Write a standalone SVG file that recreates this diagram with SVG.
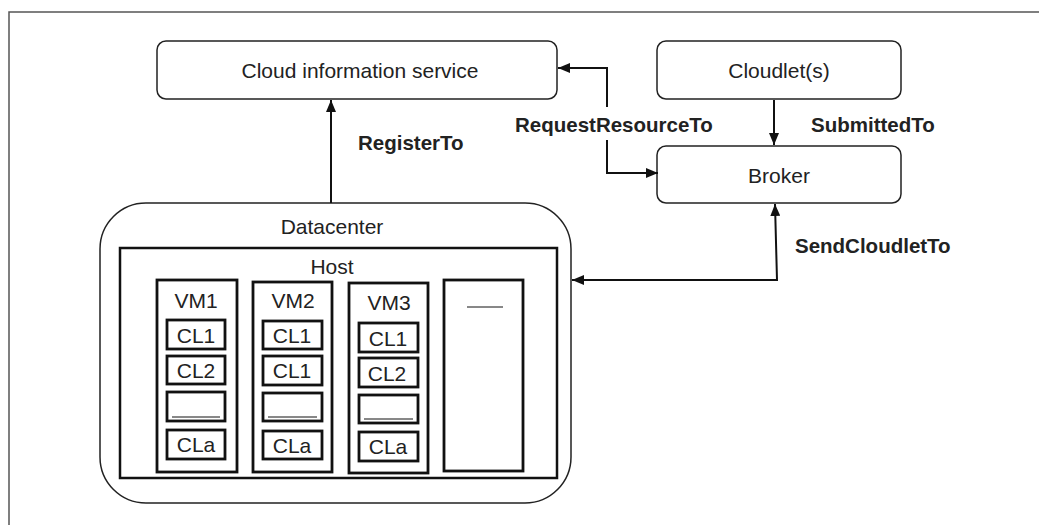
<svg xmlns="http://www.w3.org/2000/svg" width="1039" height="525" viewBox="0 0 1039 525">
<defs>
<style>
.t{font-family:"Liberation Sans",Arial,sans-serif;font-size:21px;fill:#222;text-anchor:middle}
.b{font-family:"Liberation Sans",Arial,sans-serif;font-size:20.5px;font-weight:bold;fill:#222}
.box{fill:#fff;stroke:#222;stroke-width:1.5}
.thick{fill:#fff;stroke:#111;stroke-width:2.8}
.con{fill:none;stroke:#111;stroke-width:2}
</style>
<marker id="ah" viewBox="0 0 12 10" markerWidth="12" markerHeight="10" markerUnits="userSpaceOnUse" refX="12" refY="5" orient="auto-start-reverse">
<path d="M0,0 L12,5 L0,10 z" fill="#111"/>
</marker>
</defs>
<rect x="0" y="0" width="1039" height="525" fill="#fff"/>
<path d="M9,525 L9,12 L1039,12" fill="none" stroke="#555" stroke-width="1.5"/>

<g id="cloud-info">
<rect class="box" x="157" y="41" width="400" height="58" rx="9"/>
<text class="t" x="360" y="78">Cloud information service</text>
</g>
<g id="cloudlets">
<rect class="box" x="657" y="41" width="244" height="58" rx="9"/>
<text class="t" x="779" y="78">Cloudlet(s)</text>
</g>
<g id="broker">
<rect class="box" x="657" y="146" width="244" height="57" rx="9"/>
<text class="t" x="779" y="183">Broker</text>
</g>

<g id="datacenter">
<rect class="box" x="100" y="203" width="471" height="300" rx="46"/>
<text class="t" x="332" y="234">Datacenter</text>
</g>
<g id="host">
<rect fill="#fff" stroke="#111" stroke-width="2.5" x="120" y="248" width="437" height="230"/>
<text class="t" x="332" y="274">Host</text>
</g>
<g id="vm1">
<rect class="thick" x="157" y="280" width="80" height="192"/>
<text class="t" x="196" y="308">VM1</text>
<rect class="thick" x="167" y="320" width="58" height="29"/>
<text class="t" x="196" y="343">CL1</text>
<rect class="thick" x="167" y="356" width="58" height="28"/>
<text class="t" x="196" y="378">CL2</text>
<rect class="thick" x="167" y="392" width="58" height="29"/>
<line x1="172" y1="417" x2="220" y2="417" stroke="#111" stroke-width="1"/>
<rect class="thick" x="167" y="430" width="58" height="29"/>
<text class="t" x="196" y="452">CLa</text>
</g>
<g id="vm2">
<rect class="thick" x="253" y="282" width="79" height="190"/>
<text class="t" x="293" y="308">VM2</text>
<rect class="thick" x="263" y="321" width="59" height="28"/>
<text class="t" x="292" y="343">CL1</text>
<rect class="thick" x="263" y="356" width="59" height="29"/>
<text class="t" x="292" y="378">CL1</text>
<rect class="thick" x="263" y="393" width="59" height="28"/>
<line x1="268" y1="417" x2="317" y2="417" stroke="#111" stroke-width="1"/>
<rect class="thick" x="263" y="431" width="59" height="28"/>
<text class="t" x="292" y="453">CLa</text>
</g>
<g id="vm3">
<rect class="thick" x="349" y="283" width="79" height="190"/>
<text class="t" x="389" y="310">VM3</text>
<rect class="thick" x="359" y="323" width="59" height="29"/>
<text class="t" x="388" y="346">CL1</text>
<rect class="thick" x="359" y="358" width="59" height="29"/>
<text class="t" x="387" y="381">CL2</text>
<rect class="thick" x="359" y="395" width="59" height="28"/>
<line x1="364" y1="419" x2="413" y2="419" stroke="#111" stroke-width="1"/>
<rect class="thick" x="359" y="432" width="59" height="29"/>
<text class="t" x="388" y="454">CLa</text>
</g>
<g id="vm4">
<rect class="thick" x="444" y="280" width="79" height="191"/>
<line x1="467" y1="307" x2="503" y2="307" stroke="#111" stroke-width="1"/>
</g>

<g id="connectors">
<path class="con" d="M331,203 L331,100" marker-end="url(#ah)"/>
<path class="con" d="M658,173 L607,173 L607,68 L558,68" marker-start="url(#ah)" marker-end="url(#ah)"/>
<path class="con" d="M774,100 L774,145" marker-end="url(#ah)"/>
<path class="con" d="M775,204 L777,280 L572,280" marker-start="url(#ah)" marker-end="url(#ah)"/>
<rect x="560" y="107" width="100" height="33" fill="#fff"/>
<text class="b" x="358" y="150">RegisterTo</text>
<text class="b" x="515" y="132">RequestResourceTo</text>
<text class="b" x="811" y="132">SubmittedTo</text>
<text class="b" x="795" y="253">SendCloudletTo</text>
</g>
</svg>
